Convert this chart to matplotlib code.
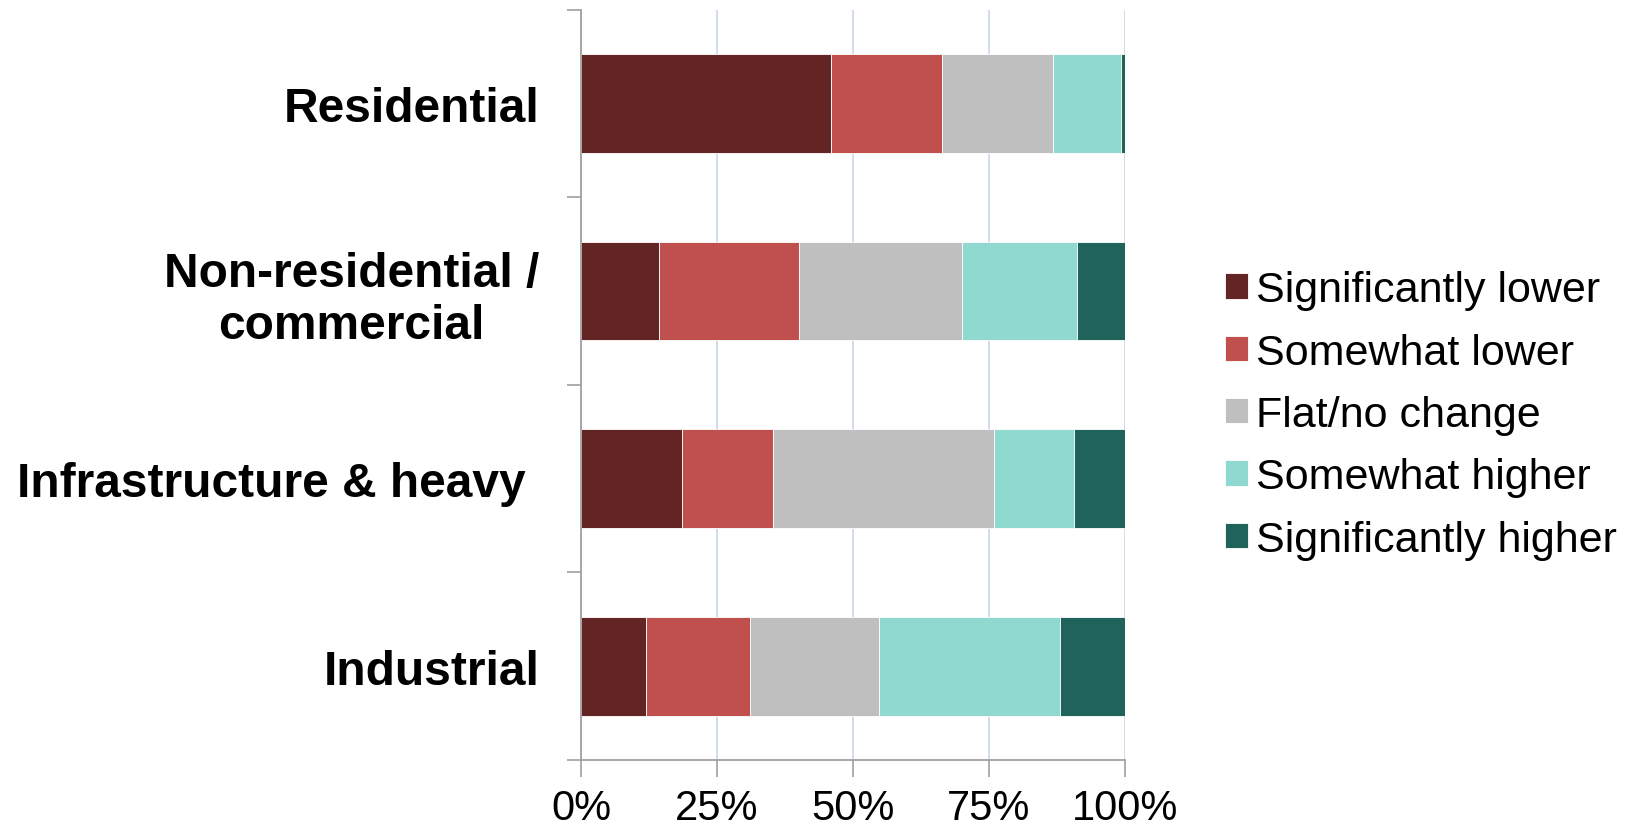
import numpy as np
from matplotlib import pyplot as plt
from matplotlib.ticker import FuncFormatter

# data (shares in %)
categories = ['Residential', 'Non-residential /\ncommercial', 'Infrastructure & heavy ', 'Industrial']
series = ['Significantly lower', 'Somewhat lower', 'Flat/no change', 'Somewhat higher', 'Significantly higher']
sig_lower = [45.9, 14.3, 18.5, 12.0]
some_lower = [20.4, 25.8, 16.8, 19.0]
flat = [20.5, 30.0, 40.6, 23.8]
some_higher = [12.4, 21.0, 14.8, 33.3]
sig_higher = [0.8, 8.9, 9.3, 11.9]
colors = ['#632523', '#c0504d', '#bfbfbf', '#8fd9d0', '#1f635a']

plt.rcParams['font.family'] = ['Liberation Sans', 'DejaVu Sans']

fig = plt.figure(figsize=(16.45, 8.28), dpi=100)
ax = fig.add_axes([581/1645, 1 - 761/828, (1125 - 581)/1645, (761 - 10.5)/828])

y = np.arange(len(categories))
left = np.zeros(len(categories))
handles = []
for vals, name, c in zip([sig_lower, some_lower, flat, some_higher, sig_higher], series, colors):
    b = ax.barh(y, vals, left=left, height=0.526, color=c, edgecolor='white', linewidth=0.6, label=name)
    handles.append(b)
    left += np.array(vals)

ax.set_xlim(0, 100)
ax.set_ylim(len(categories) - 0.5, -0.5)

# x axis
ax.set_xticks([0, 25, 50, 75, 100])
ax.xaxis.set_major_formatter(FuncFormatter(lambda v, p: f'{v:.0f}%'))
ax.tick_params(axis='x', length=12, width=1.2, color='#a0a0a0', pad=8, labelsize=30)
ax.grid(axis='x', color='#c9d6ea', linewidth=1.2)
ax.set_axisbelow(True)

# y axis: ticks on boundaries, labels at centers
ax.set_yticks(np.arange(-0.5, len(categories), 1.0))
ax.set_yticklabels([])
ax.tick_params(axis='y', which='major', length=10, width=1.2, color='#a0a0a0')
ax.set_yticks(y, minor=True)
ax.set_yticklabels(categories, minor=True, fontweight='bold', fontsize=34.5, multialignment='center')
ax.tick_params(axis='y', which='minor', length=0, pad=30)

for s in ['top', 'right']:
    ax.spines[s].set_visible(False)
for s in ['left', 'bottom']:
    ax.spines[s].set_color('#a0a0a0')
    ax.spines[s].set_linewidth(1.3)

fig.legend(handles=handles, loc='center left', bbox_to_anchor=(1225/1645, 1 - 416/828),
           frameon=False, fontsize=31, borderpad=0, borderaxespad=0,
           handlelength=0.53, handleheight=0.53, handletextpad=0.2, labelspacing=0.52)

plt.savefig('out.png', dpi=100)
